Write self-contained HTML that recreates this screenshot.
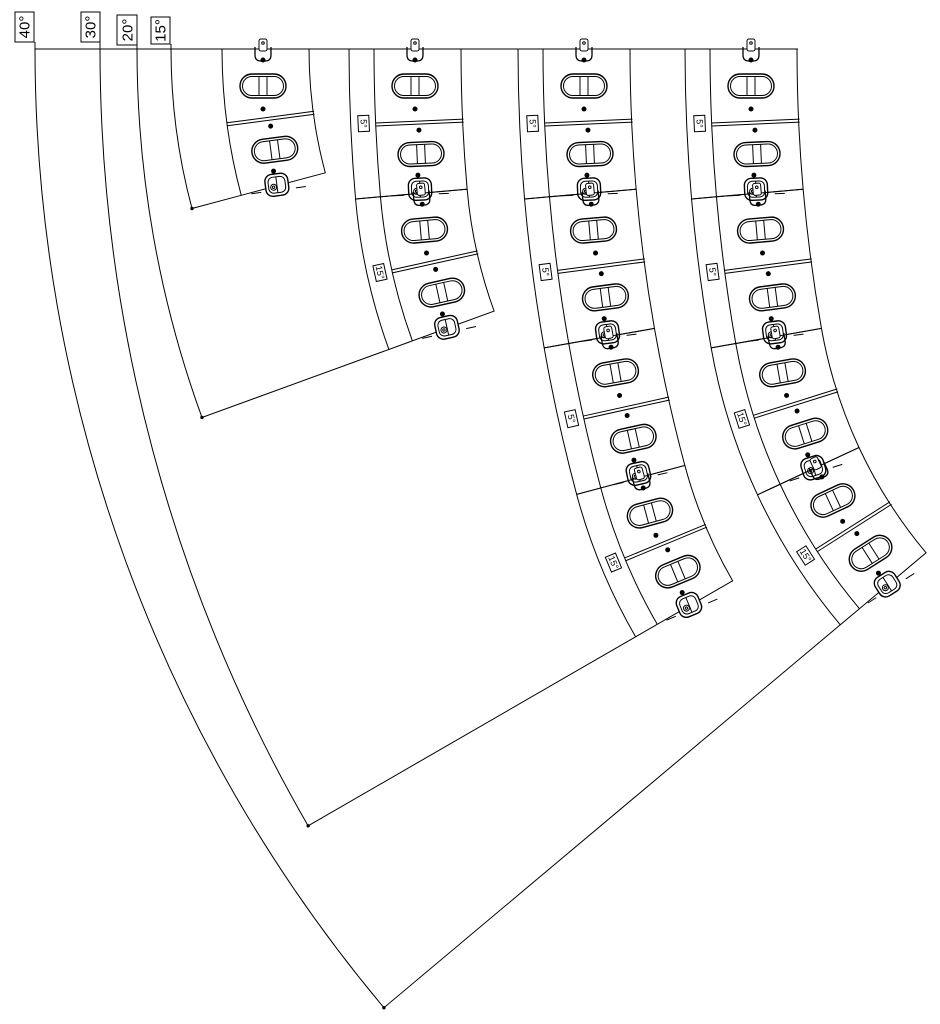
<!DOCTYPE html>
<html><head><meta charset="utf-8"><style>
html,body{margin:0;padding:0;background:#fff;}
svg{display:block;}
text{font-family:"Liberation Sans",sans-serif;}
</style></head><body>
<svg id="s" width="940" height="1024" viewBox="0 0 940 1024" xmlns="http://www.w3.org/2000/svg" fill="none" stroke="#000" stroke-width="1">
<line x1="35" y1="49" x2="798" y2="49"/>
<g stroke-width="1">
<rect x="15" y="12" width="19" height="30"/>
<text x="0" y="0" transform="translate(29.5,27) rotate(-90)" font-size="15" text-anchor="middle" fill="#000" stroke="none">40°</text>
<rect x="81" y="12" width="19" height="30"/>
<text x="0" y="0" transform="translate(95.5,27) rotate(-90)" font-size="15" text-anchor="middle" fill="#000" stroke="none">30°</text>
<rect x="117" y="15" width="20" height="30"/>
<text x="0" y="0" transform="translate(132.5,30) rotate(-90)" font-size="15" text-anchor="middle" fill="#000" stroke="none">20°</text>
<rect x="151" y="17" width="19" height="27"/>
<text x="0" y="0" transform="translate(165.5,30.5) rotate(-90)" font-size="15" text-anchor="middle" fill="#000" stroke="none">15°</text>
<line x1="35" y1="42" x2="35" y2="49"/>
<line x1="100" y1="42" x2="100" y2="49"/>
<line x1="137" y1="45" x2="137" y2="49"/>
<line x1="171" y1="44" x2="171" y2="49"/>
</g>
<g id="dyn"></g>
</svg>
<script>
(function(){
var dyn=document.getElementById('dyn');
var L=148, W=87, SW=25;
function f(n){return n.toFixed(2);}
var arrays=[
 {x:222,x0:171,blocks:[15],strip:false},
 {x:374,x0:137,blocks:[5,15],strip:true},
 {x:543,x0:100,blocks:[5,5,5,15],strip:true},
 {x:710,x0:35,blocks:[5,5,15,15],strip:true}
];
var html='';
function cab(upper){
  var s='';
  if(upper){
    s+='<path d="M33,-2 v8 q0,6 6,6 h4 q6,0 6,-6 v-8" stroke-width="1.3"/>';
    s+='<rect x="37" y="-10" width="8" height="12" rx="2" fill="#fff"/>';
    s+='<circle cx="41" cy="-6" r="1.3"/>';
    s+='<circle cx="41" cy="11" r="2" fill="#000"/>';
    s+=handle(41,37);
    s+='<circle cx="41" cy="60" r="2" fill="#000"/>';
  }else{
    s+='<line x1="0" y1="0" x2="88" y2="0"/><line x1="0" y1="3" x2="88" y2="3"/>';
    s+='<circle cx="43" cy="9" r="2" fill="#000"/>';
    s+=handle(44,33);
    s+='<circle cx="40" cy="54" r="2" fill="#000"/>';
    s+='<rect x="30" y="57" width="23" height="22" rx="7" stroke-width="1.4" fill="#fff"/>';
    s+='<rect x="33" y="60" width="17" height="16" rx="5"/>';
    s+='<line x1="41.5" y1="60" x2="41.5" y2="76"/>';
    s+='<circle cx="38" cy="70" r="3"/><circle cx="38" cy="70" r="1.2"/>';
    s+='<line x1="60" y1="73.5" x2="70" y2="73.5"/><line x1="15" y1="73.5" x2="25" y2="73.5"/>';
  }
  return s;
}
function handle(cx,cy){
  var s='<rect x="'+(cx-23)+'" y="'+(cy-12)+'" width="46" height="24" rx="12" stroke-width="1.4"/>';
  s+='<rect x="'+(cx-20.5)+'" y="'+(cy-9.5)+'" width="41" height="19" rx="9.5"/>';
  s+='<line x1="'+(cx-4)+'" y1="'+(cy-9.5)+'" x2="'+(cx-4)+'" y2="'+(cy+9.5)+'"/>';
  s+='<line x1="'+(cx+4)+'" y1="'+(cy-9.5)+'" x2="'+(cx+4)+'" y2="'+(cy+9.5)+'"/>';
  return s;
}
arrays.forEach(function(A){
  var P={x:A.x,y:49}, th=0, last=null;
  A.blocks.forEach(function(adeg,bi){
    var a=adeg*Math.PI/180, Rc=L/a, Rb=Rc-W, Rs=Rc+SW;
    function pt(R,ang){return {x:Rc-R*Math.cos(ang), y:R*Math.sin(ang)};}
    var fb=pt(Rc,a), bb=pt(Rb,a), sb=pt(Rs,a);
    var thd=th*180/Math.PI;
    var g='<g transform="translate('+f(P.x)+','+f(P.y)+') rotate('+f(-thd)+')">';
    g+='<path d="M0,0 L'+W+',0 A'+f(Rb)+','+f(Rb)+' 0 0 0 '+f(bb.x)+','+f(bb.y)+' L'+f(fb.x)+','+f(fb.y)+' A'+f(Rc)+','+f(Rc)+' 0 0 1 0,0 Z"/>';
    if(A.strip){
      g+='<path d="M'+(-SW)+',0 A'+f(Rs)+','+f(Rs)+' 0 0 0 '+f(sb.x)+','+f(sb.y)+' L'+f(fb.x)+','+f(fb.y)+'"/>';
      if(bi>0) g+='<line x1="'+(-SW)+'" y1="0" x2="0" y2="0"/>';
      var lp=pt(Rc+12,a/2);
      g+='<g transform="translate('+f(lp.x)+','+f(lp.y)+') rotate('+f(-adeg/2)+')"><rect x="-5.5" y="-8" width="11" height="16" fill="#fff"/><text x="0" y="0" transform="rotate(90)" font-size="9" text-anchor="middle" dy="3" fill="#000" stroke="none">'+adeg+'°</text></g>';
    }
    g+=cab(true);
    g+='<g transform="rotate('+f(-adeg/2)+','+f(Rc)+',0)">'+cab(false)+'</g>';
    g+='</g>';
    html+=g;
    var u={x:Math.cos(th),y:-Math.sin(th)}, v={x:Math.sin(th),y:Math.cos(th)};
    function G(p){return {x:P.x+p.x*u.x+p.y*v.x, y:P.y+p.x*u.y+p.y*v.y};}
    last={F:G(fb),Ap:G({x:Rc,y:0}),S:G(A.strip?sb:fb)};
    P=G(fb); th+=a;
  });
  var F=last.F, Ap=last.Ap;
  var t=(49-F.y)/(Ap.y-F.y);
  var cx=F.x+t*(Ap.x-F.x);
  var r=cx-A.x0;
  var E={x:cx-r*Math.cos(th), y:49+r*Math.sin(th)};
  html+='<path d="M'+A.x0+',49 A'+f(r)+','+f(r)+' 0 0 0 '+f(E.x)+','+f(E.y)+' L'+f(last.S.x)+','+f(last.S.y)+'"/>';
  html+='<circle cx="'+f(E.x)+'" cy="'+f(E.y)+'" r="1.2" fill="#000"/>';
});
dyn.innerHTML=html;
})();
</script>
</body></html>
